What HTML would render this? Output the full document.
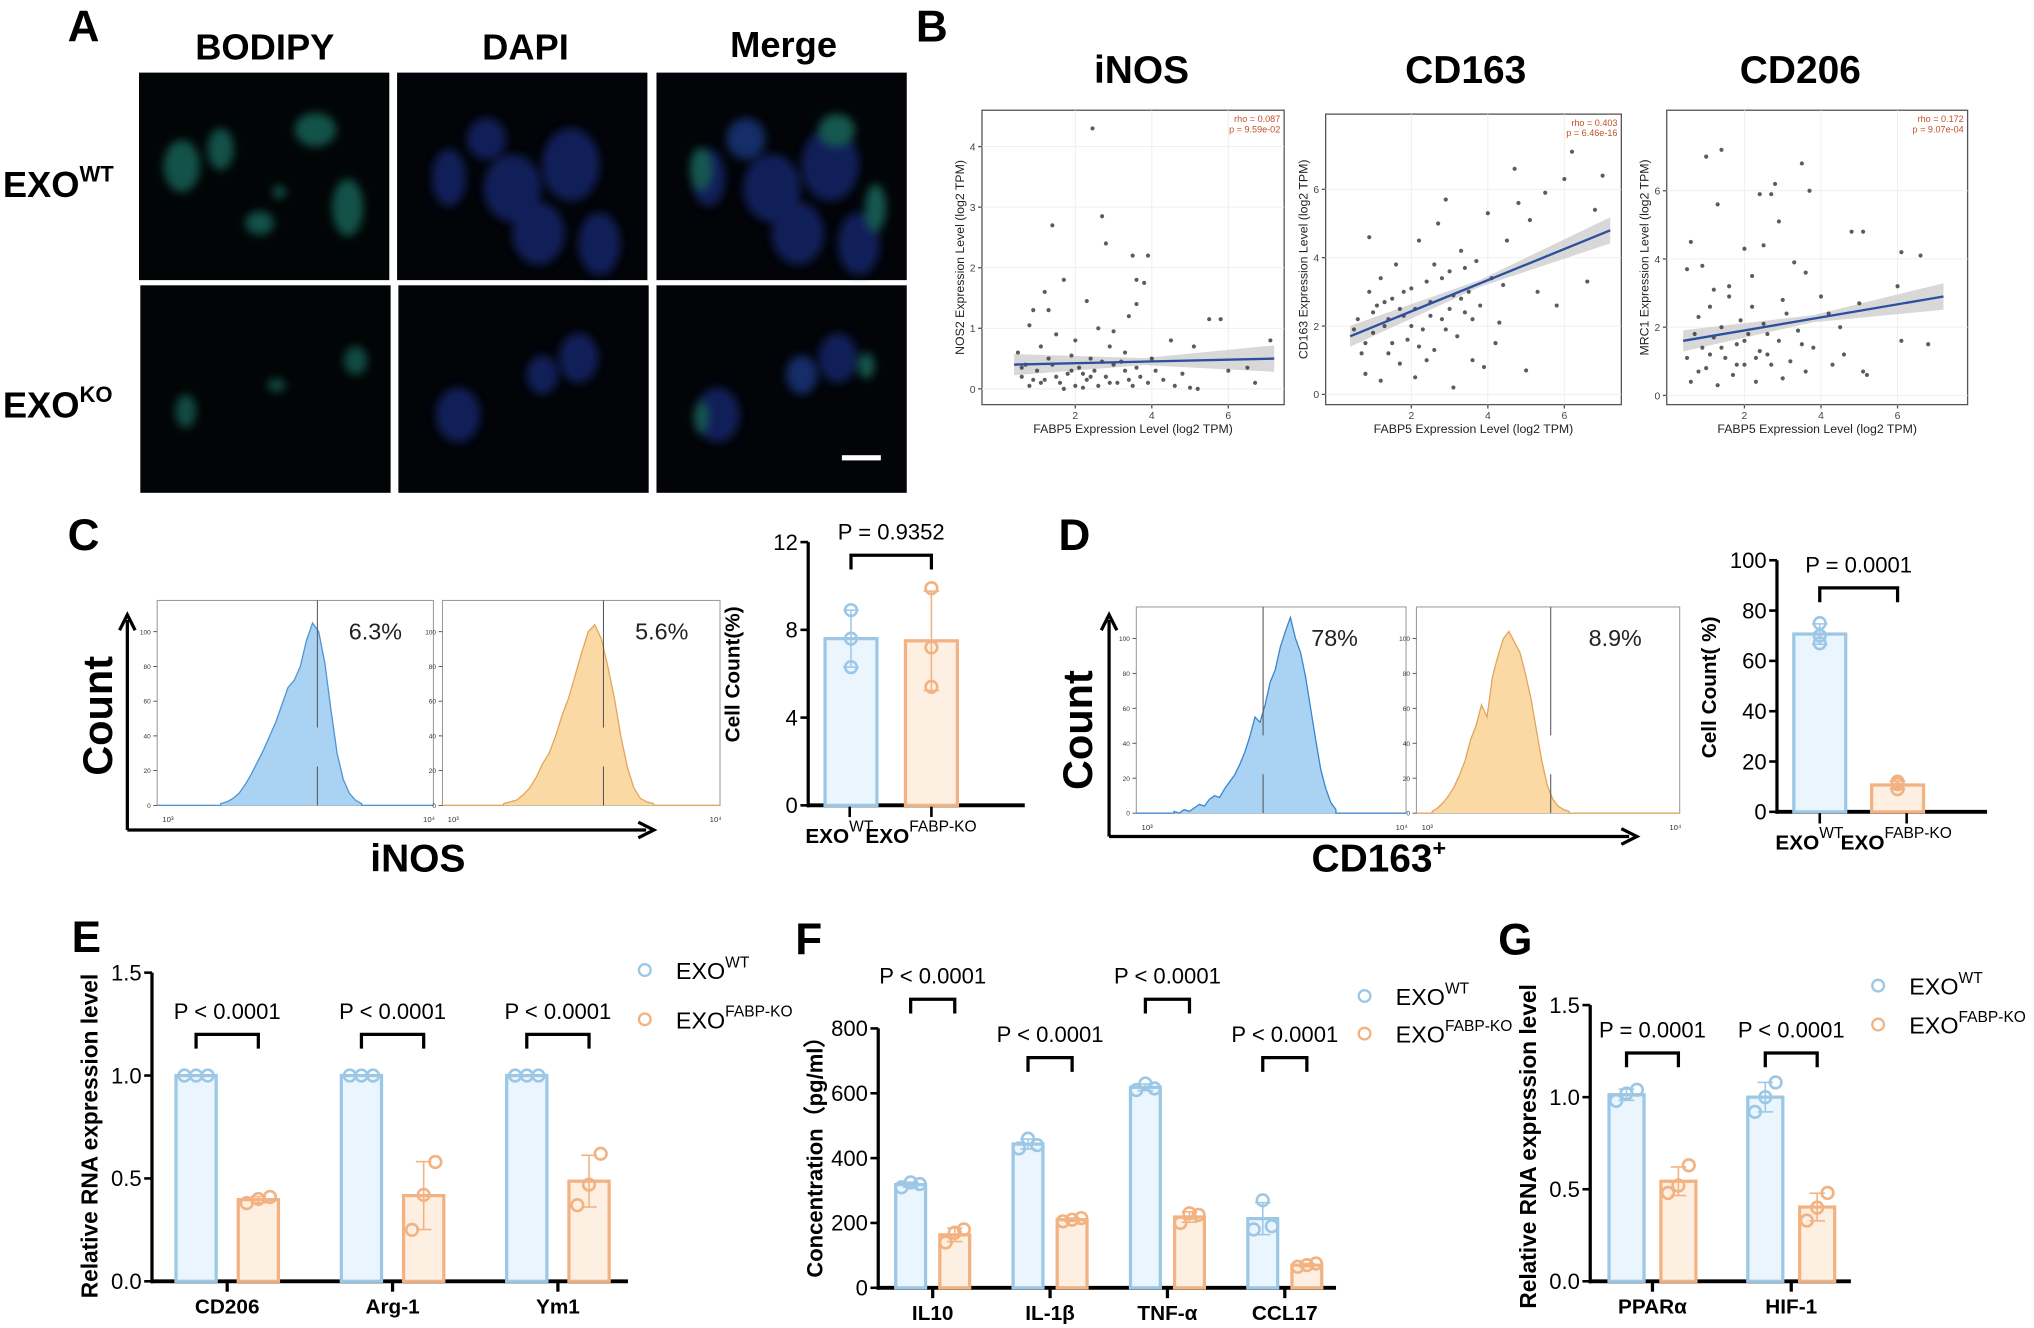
<!DOCTYPE html>
<html><head><meta charset="utf-8">
<style>
html,body{margin:0;padding:0;background:#fff;}
svg{display:block;}
text{font-family:"Liberation Sans",sans-serif;}
.n{font-family:"Liberation Sans Narrow","Liberation Sans",sans-serif;}
.b{font-weight:bold;}
</style></head>
<body>
<svg id="fig" xmlns="http://www.w3.org/2000/svg" width="2034" height="1328" viewBox="0 0 1568 1024">
<defs>
<filter id="blur" x="-20%" y="-20%" width="140%" height="140%"><feGaussianBlur stdDeviation="3.5"/></filter>
</defs>
<!-- Panel A -->
<text x="52" y="32" font-size="34" class="b">A</text>
<text x="204" y="46" font-size="28" class="b n" text-anchor="middle">BODIPY</text>
<text x="405" y="46" font-size="28" class="b n" text-anchor="middle">DAPI</text>
<text x="604" y="44" font-size="28" class="b n" text-anchor="middle">Merge</text>
<text x="2" y="152" font-size="28" class="b n">EXO<tspan font-size="17" dy="-12">WT</tspan></text>
<text x="2" y="322" font-size="28" class="b n">EXO<tspan font-size="17" dy="-12">KO</tspan></text>
<g>
<rect x="107" y="56" width="193" height="160" fill="#020506"/>
<rect x="306" y="56" width="193" height="160" fill="#020408"/>
<rect x="506" y="56" width="193" height="160" fill="#020408"/>
<rect x="108" y="220" width="193" height="160" fill="#020506"/>
<rect x="307" y="220" width="193" height="160" fill="#020408"/>
<rect x="506" y="220" width="193" height="160" fill="#020408"/>
<g filter="url(#blur)" fill="#20917f" opacity="0.55">
<ellipse cx="140" cy="128" rx="14" ry="20"/><ellipse cx="170" cy="115" rx="10" ry="16"/><ellipse cx="243" cy="100" rx="16" ry="13"/>
<ellipse cx="268" cy="160" rx="12" ry="22"/><ellipse cx="200" cy="172" rx="11" ry="9"/><ellipse cx="215" cy="148" rx="5" ry="5"/></g>
<g filter="url(#blur)" fill="#1a3390" opacity="0.6">
<ellipse cx="346" cy="137" rx="13" ry="22"/><ellipse cx="375" cy="107" rx="15" ry="16"/><ellipse cx="395" cy="145" rx="22" ry="26"/>
<ellipse cx="440" cy="127" rx="22" ry="28"/><ellipse cx="415" cy="180" rx="20" ry="24"/><ellipse cx="462" cy="188" rx="16" ry="24"/></g>
<g filter="url(#blur)" opacity="0.6">
<ellipse cx="546" cy="137" rx="13" ry="22" fill="#1a3390"/><ellipse cx="575" cy="107" rx="15" ry="16" fill="#2248a8"/><ellipse cx="595" cy="145" rx="22" ry="26" fill="#1a3390"/>
<ellipse cx="640" cy="127" rx="22" ry="28" fill="#1a3390"/><ellipse cx="615" cy="180" rx="20" ry="24" fill="#1a3390"/><ellipse cx="662" cy="188" rx="16" ry="24" fill="#1a3390"/>
<ellipse cx="540" cy="130" rx="8" ry="16" fill="#20917f"/><ellipse cx="645" cy="100" rx="14" ry="12" fill="#20917f"/><ellipse cx="675" cy="160" rx="8" ry="18" fill="#20917f"/></g>
<g filter="url(#blur)" fill="#20917f" opacity="0.5">
<ellipse cx="143" cy="317" rx="8" ry="13"/><ellipse cx="213" cy="297" rx="7" ry="5"/><ellipse cx="274" cy="278" rx="9" ry="11"/></g>
<g filter="url(#blur)" fill="#1a3390" opacity="0.6">
<ellipse cx="353" cy="320" rx="17" ry="21"/><ellipse cx="418" cy="289" rx="12" ry="15"/><ellipse cx="446" cy="276" rx="15" ry="19"/></g>
<g filter="url(#blur)" opacity="0.6">
<ellipse cx="553" cy="320" rx="17" ry="21" fill="#1a3390"/><ellipse cx="618" cy="289" rx="12" ry="15" fill="#2248a8"/><ellipse cx="646" cy="276" rx="15" ry="19" fill="#1a3390"/>
<ellipse cx="540" cy="322" rx="5" ry="12" fill="#20917f"/><ellipse cx="668" cy="282" rx="6" ry="10" fill="#20917f"/></g>
<rect x="649" y="351" width="30" height="4" fill="#fff"/>
</g>
<!-- Panel B titles -->
<text x="706" y="32" font-size="34" class="b">B</text>
<text x="880" y="64" font-size="30" class="b n" text-anchor="middle">iNOS</text>
<text x="1130" y="64" font-size="30" class="b n" text-anchor="middle">CD163</text>
<text x="1388" y="64" font-size="30" class="b n" text-anchor="middle">CD206</text>
<!-- Panel letters -->
<text x="52" y="424" font-size="34" class="b">C</text>
<text x="816" y="424" font-size="34" class="b">D</text>
<text x="55" y="734" font-size="34" class="b">E</text>
<text x="613" y="736" font-size="34" class="b">F</text>
<text x="1155" y="736" font-size="34" class="b">G</text>
<!-- flow axes -->
<g stroke="#000" stroke-width="2.5" fill="none">
<line x1="98" y1="640" x2="98" y2="478"/><path d="M92 486 L98 474 L104 486" /><line x1="98" y1="640" x2="498" y2="640"/><path d="M492 634 L504 640 L492 646"/></g>
<text transform="translate(86,552) rotate(-90)" font-size="32" class="b" text-anchor="middle">Count</text>
<text x="322" y="672" font-size="30" class="b n" text-anchor="middle">iNOS</text>
<g stroke="#000" stroke-width="2.5" fill="none">
<line x1="855" y1="645" x2="855" y2="478"/><path d="M849 486 L855 474 L861 486"/><line x1="855" y1="645" x2="1256" y2="645"/><path d="M1250 639 L1262 645 L1250 651"/></g>
<text transform="translate(842,563) rotate(-90)" font-size="32" class="b" text-anchor="middle">Count</text>
<text x="1063" y="672" font-size="30" class="b n" text-anchor="middle">CD163<tspan font-size="18" dy="-12">+</tspan></text>
</svg>
<script>
const NS='http://www.w3.org/2000/svg';
const svg=document.getElementById('fig');
function mk(tag,attrs,parent,name){const e=document.createElementNS(NS,tag);for(const k in attrs)e.setAttribute(k,attrs[k]);


(parent||svg).appendChild(e);return e;}
function tx(x,y,s,size,extra,parent,name){const e=mk('text',Object.assign({x:x,y:y,'font-size':size},extra||{}),parent,name);e.textContent=s;return e;}

/* ---------- Scatter data (panel B) ---------- */
const inosPoints=[[2.45,4.3],[2.7,2.85],[1.4,2.7],[2.8,2.4],[3.5,2.2],[3.9,2.2],[1.7,1.8],[3.6,1.8],[3.8,1.75],[1.2,1.6],[0.9,1.3],[1.3,1.3],[2.3,1.45],[3.6,1.4],[3.4,1.2],[5.5,1.15],[5.8,1.15],[7.1,0.8],[0.8,1.05],[2.6,1.0],[3.0,0.95],[4.5,0.8],[5.1,0.7],[0.5,0.6],[1.1,0.7],[1.5,0.9],[2.0,0.8],[2.9,0.7],[3.3,0.6],[6.0,0.3],[6.5,0.35],[6.7,0.1],[5.0,0.02],[5.2,0.0],[0.6,0.2],[0.8,0.05],[1.0,0.3],[1.2,0.15],[1.4,0.4],[1.6,0.1],[1.8,0.25],[2.0,0.05],[2.1,0.35],[2.3,0.15],[2.5,0.3],[2.6,0.05],[2.8,0.2],[3.0,0.4],[3.1,0.1],[3.3,0.3],[3.5,0.05],[3.7,0.2],[3.9,0.1],[4.1,0.3],[4.3,0.15],[4.6,0.05],[4.8,0.25],[1.9,0.55],[2.4,0.5],[3.2,0.45],[1.3,0.5],[0.7,0.4],[2.2,0.02],[2.7,0.45],[1.7,0.0],[3.6,0.35],[4.0,0.5],[0.9,0.15],[1.5,0.2],[2.9,0.1],[1.1,0.1],[2.4,0.2],[3.4,0.15],[1.9,0.3],[0.6,0.35],[2.2,0.25]];
const cd163Points=[[0.6,2.2],[0.7,1.2],[0.8,0.6],[0.9,3.0],[0.9,4.6],[1.0,1.8],[1.1,2.6],[1.2,0.4],[1.2,3.4],[1.3,2.0],[1.4,1.2],[1.5,2.8],[1.6,3.8],[1.7,0.9],[1.8,2.3],[1.9,1.6],[2.0,3.1],[2.1,0.5],[2.1,2.5],[2.2,4.5],[2.3,1.9],[2.4,3.3],[2.5,2.7],[2.6,1.3],[2.7,5.0],[2.8,2.2],[2.9,5.7],[3.0,3.6],[3.1,0.2],[3.1,2.9],[3.2,1.7],[3.3,4.2],[3.4,2.4],[3.5,3.0],[3.6,1.0],[3.7,3.9],[3.8,2.6],[3.9,0.8],[4.0,5.3],[4.1,3.4],[4.2,1.5],[4.3,2.1],[4.5,4.5],[4.7,6.6],[4.8,5.6],[5.0,0.7],[5.1,5.1],[5.3,3.0],[5.5,5.9],[5.8,2.6],[6.0,6.3],[6.2,7.1],[6.6,3.3],[6.8,5.4],[7.0,6.4],[1.5,1.5],[2.0,2.0],[2.5,2.3],[3.0,2.5],[1.0,2.4],[1.8,3.0],[2.8,3.4],[3.6,2.2],[0.5,1.9],[1.4,2.2],[2.2,1.4],[3.4,3.7],[4.4,3.2],[0.8,1.5],[1.3,2.7],[2.4,1.0],[2.9,1.9],[3.3,2.8],[1.7,2.5],[2.6,3.8]];
const cd206Points=[[0.5,3.7],[0.6,4.5],[1.0,7.0],[1.4,7.2],[2.6,1.8],[2.8,6.2],[2.7,5.9],[2.4,5.9],[3.7,6.0],[3.5,6.8],[1.3,5.6],[2.9,5.1],[4.8,4.8],[5.1,4.8],[6.6,4.1],[6.1,4.2],[0.9,3.8],[1.2,3.1],[1.6,3.2],[2.0,4.3],[2.2,3.5],[2.5,4.4],[3.3,3.9],[3.0,2.8],[3.6,3.6],[4.2,2.4],[4.5,2.0],[5.0,2.7],[6.0,3.2],[6.8,1.5],[6.1,1.6],[5.2,0.6],[5.1,0.7],[0.5,1.1],[0.6,0.4],[0.8,2.3],[0.9,1.4],[1.0,0.8],[1.1,2.6],[1.2,1.7],[1.3,0.3],[1.4,2.0],[1.5,1.1],[1.6,2.9],[1.7,0.6],[1.8,1.5],[1.9,2.2],[2.0,0.9],[2.1,1.8],[2.2,2.6],[2.3,0.4],[2.4,1.3],[2.5,2.1],[2.7,0.9],[2.9,1.6],[3.1,2.4],[3.2,1.0],[3.4,1.9],[3.6,0.7],[3.8,1.4],[4.0,2.9],[4.3,0.9],[4.6,1.2],[1.4,1.4],[2.0,1.6],[2.6,1.2],[3.0,0.5],[0.7,1.8],[1.1,1.2],[1.8,0.9],[2.3,1.1],[3.5,1.5],[0.8,0.7]];
const inosFit=[0.4,0.4,7.2,0.5];
const cd163Fit=[0.4,1.7,7.2,4.8];
const cd206Fit=[0.4,1.6,7.2,2.9];
const inosStats=['rho = 0.087','p = 9.59e-02'];
const cd163Stats=['rho = 0.403','p = 6.46e-16'];
const cd206Stats=['rho = 0.172','p = 9.07e-04'];
const scatterXTicks=[2,4,6];
const inosYTicks=[0,1,2,3,4];
const cd163YTicks=[0,2,4,6];
const cd206YTicks=[0,2,4,6];

function scatter(name,box,xd,yd,pts,fit,stats,yticks,ylab){
  const g=mk('g',{},svg,name);
  const sx=v=>box[0]+(v-xd[0])/(xd[1]-xd[0])*(box[2]-box[0]);
  const sy=v=>box[3]-(v-yd[0])/(yd[1]-yd[0])*(box[3]-box[1]);
  mk('rect',{x:box[0],y:box[1],width:box[2]-box[0],height:box[3]-box[1],fill:'#fff',stroke:'#555','stroke-width':1},g,'plot-frame');
  scatterXTicks.forEach(t=>{mk('line',{x1:sx(t),x2:sx(t),y1:box[1],y2:box[3],stroke:'#eee','stroke-width':0.7},g,'grid-line-x');
    mk('line',{x1:sx(t),x2:sx(t),y1:box[3],y2:box[3]+3,stroke:'#555'},g,'x-tick');
    tx(sx(t),box[3]+11,String(t),8,{'text-anchor':'middle',fill:'#444'},g,'x-tick-label');});
  yticks.forEach(t=>{mk('line',{x1:box[0],x2:box[2],y1:sy(t),y2:sy(t),stroke:'#eee','stroke-width':0.7},g,'grid-line-y');
    mk('line',{x1:box[0]-3,x2:box[0],y1:sy(t),y2:sy(t),stroke:'#555'},g,'y-tick');
    tx(box[0]-5,sy(t)+3,String(t),8,{'text-anchor':'end',fill:'#444'},g,'y-tick-label');});
  const x0=fit[0],y0=fit[1],x1=fit[2],y1=fit[3];
  const mid=(x0+x1)/2, bw=(yd[1]-yd[0])*0.012, be=(yd[1]-yd[0])*0.045;
  const band=`M${sx(x0)},${sy(y0+be*0.8)} L${sx(mid)},${sy((y0+y1)/2+bw)} L${sx(x1)},${sy(y1+be)} L${sx(x1)},${sy(y1-be)} L${sx(mid)},${sy((y0+y1)/2-bw)} L${sx(x0)},${sy(y0-be*0.8)} Z`;
  mk('path',{d:band,fill:'#c8c8c8',opacity:0.7},g,'confidence-band');
  pts.forEach(p=>{mk('circle',{cx:sx(p[0]),cy:sy(p[1]),r:1.6,fill:'#333',opacity:0.8},g,'scatter-point');});
  mk('line',{x1:sx(x0),y1:sy(y0),x2:sx(x1),y2:sy(y1),stroke:'#2c4fa0','stroke-width':1.8},g,'regression-line');
  tx(box[2]-3,box[1]+9,stats[0],7,{'text-anchor':'end',fill:'#c0502a'},g,'rho-label');
  tx(box[2]-3,box[1]+17,stats[1],7,{'text-anchor':'end',fill:'#c0502a'},g,'p-value-label');
  tx((box[0]+box[2])/2,box[3]+22,'FABP5 Expression Level (log2 TPM)',9.5,{'text-anchor':'middle',fill:'#222'},g,'x-axis-title');
  tx(0,0,ylab,9.5,{'text-anchor':'middle',fill:'#222',transform:`translate(${box[0]-14},${(box[1]+box[3])/2}) rotate(-90)`},g,'y-axis-title');
}
scatter('inos-scatter',[757,85,990,312],[-0.44,7.46],[-0.26,4.6],inosPoints,inosFit,inosStats,inosYTicks,'NOS2 Expression Level (log2 TPM)');
scatter('cd163-scatter',[1022,88,1250,312],[-0.24,7.49],[-0.3,8.2],cd163Points,cd163Fit,cd163Stats,cd163YTicks,'CD163 Expression Level (log2 TPM)');
scatter('cd206-scatter',[1285,85,1517,312],[-0.03,7.83],[-0.27,8.36],cd206Points,cd206Fit,cd206Stats,cd206YTicks,'MRC1 Expression Level (log2 TPM)');

/* ---------- Histograms ---------- */
const histCBlueRange=[3.23,3.74];
const histCBlue=[1,2,4,7,12,18,25,32,40,48,58,68,72,80,95,105,100,82,55,30,15,7,3,1];
const histCOrangeRange=[3.22,3.76];
const histCOrange=[1,2,3,6,10,16,24,30,40,52,62,75,88,100,104,96,80,62,40,22,10,4,2,1];
const histDBlueRange=[3.14,3.74];
const histDBlue=[1,0,2,1,3,5,4,8,10,9,14,18,22,28,35,44,55,52,62,75,82,95,104,112,100,92,78,60,42,25,14,6,2];
const histDOrangeRange=[3.06,3.58];
const histDOrange=[1,3,6,10,15,22,30,42,50,62,55,78,90,100,104,98,92,80,66,48,30,16,8,4,2,1];
const histYTicks=[0,20,40,60,80,100];
function hist(name,box,range,counts,gate,pct,fill,stroke){
  const g=mk('g',{},svg,name);
  const sx=v=>box[0]+(v-3)*(box[2]-box[0]);
  const sy=v=>box[3]-v/118*(box[3]-box[1]);
  mk('rect',{x:box[0],y:box[1],width:box[2]-box[0],height:box[3]-box[1],fill:'#fff',stroke:'#999','stroke-width':0.8},g,'histogram-frame');
  histYTicks.forEach(t=>{mk('line',{x1:box[0]-3,x2:box[0],y1:sy(t),y2:sy(t),stroke:'#333','stroke-width':0.6},g,'y-tick');
    tx(box[0]-5,sy(t)+2,String(t),5,{'text-anchor':'end',fill:'#333'},g,'y-tick-label');});
  tx(box[0]+4,box[3]+13,'10³',6,{fill:'#333'},g,'x-tick-label');
  tx(box[2]-8,box[3]+13,'10⁴',6,{fill:'#333'},g,'x-tick-label');
  const n=counts.length;let d=`M${box[0]},${box[3]} L${sx(range[0])},${box[3]}`;
  counts.forEach((c,i)=>{d+=` L${sx(range[0]+(range[1]-range[0])*i/(n-1))},${sy(c)}`;});
  d+=` L${sx(range[1])},${box[3]} L${box[2]},${box[3]}`;
  mk('path',{d:d,fill:fill,stroke:stroke,'stroke-width':1},g,'histogram-area');
  mk('line',{x1:sx(gate),x2:sx(gate),y1:box[1],y2:box[3]-60,stroke:'#555','stroke-width':0.8},g,'gate-line');
  mk('line',{x1:sx(gate),x2:sx(gate),y1:box[3]-30,y2:box[3],stroke:'#555','stroke-width':0.8},g,'gate-tick');
  tx(sx(gate)+(box[2]-sx(gate))/2,box[1]+30,pct,18,{'text-anchor':'middle',fill:'#222'},g,'gate-percentage');
}
hist('hist-c-wt',[121,463,334,621],histCBlueRange,histCBlue,3.58,'6.3%','#a9d2f3','#4f94d4');
hist('hist-c-ko',[341,463,555,621],histCOrangeRange,histCOrange,3.58,'5.6%','#fbd9a4','#e3a55a');
hist('hist-d-wt',[876,468,1084,627],histDBlueRange,histDBlue,3.47,'78%','#a9d2f3','#3a86cc');
hist('hist-d-ko',[1092,468,1295,627],histDOrangeRange,histDOrange,3.51,'8.9%','#fbd9a4','#e3a55a');

/* ---------- Bar charts ---------- */
const cWT=[8.9,7.6,6.3];
const cKO=[9.9,7.2,5.4];
const cTicks=[0,4,8,12];
const dWT=[67,70,75];
const dKO=[9,11,12];
const dTicks=[0,20,40,60,80,100];
const eCats=['CD206','Arg-1','Ym1'];
const eWT=[[1,1,1],[1,1,1],[1,1,1]];
const eKO=[[0.38,0.40,0.41],[0.25,0.42,0.58],[0.37,0.47,0.62]];
const eP=['P < 0.0001','P < 0.0001','P < 0.0001'];
const eBracket=[1.2,1.2,1.2];
const eTicks=[0,0.5,1.0,1.5];
const fCats=['IL10','IL-1β','TNF-α','CCL17'];
const fWT=[[310,325,320],[430,460,440],[610,630,615],[180,270,190]];
const fKO=[[140,170,180],[205,210,215],[200,230,225],[65,70,75]];
const fP=['P < 0.0001','P < 0.0001','P < 0.0001','P < 0.0001'];
const fBracket=[890,710,890,710];
const fTicks=[0,200,400,600,800];
const gCats=['PPARα','HIF-1'];
const gWT=[[0.98,1.02,1.04],[0.92,1.0,1.08]];
const gKO=[[0.48,0.52,0.63],[0.33,0.4,0.48]];
const gP=['P = 0.0001','P < 0.0001'];
const gBracket=[1.24,1.24];
const gTicks=[0,0.5,1.0,1.5];

const BLUE='#9cc8e6',BLUEF='#eaf5fd',OR='#f2b282',ORF='#fdefe2';
function mean(a){return a.reduce((s,v)=>s+v,0)/a.length;}
function sd(a){const m=mean(a);return Math.sqrt(a.reduce((s,v)=>s+(v-m)*(v-m),0)/(a.length-1));}
function barChart(name,o){
  const g=mk('g',{},svg,name);
  const sy=v=>o.y0-v/o.ymax*(o.y0-o.yTop);
  mk('line',{x1:o.ax,x2:o.ax,y1:o.yTop,y2:o.y0+1.5,stroke:'#000','stroke-width':2.5},g,'y-axis');
  mk('line',{x1:o.ax-1,x2:o.xEnd,y1:o.y0,y2:o.y0,stroke:'#000','stroke-width':3},g,'x-axis');
  o.ticks.forEach(t=>{mk('line',{x1:o.ax-6,x2:o.ax,y1:sy(t),y2:sy(t),stroke:'#000','stroke-width':2},g,'y-tick');
    tx(o.ax-8,sy(t)+6,o.fmt(t),17,{'text-anchor':'end',class:'n'},g,'y-tick-label');});
  tx(0,0,o.ylab,o.ylsize||16,{'text-anchor':'middle',class:'b',transform:`translate(${o.ylx},${o.yly}) rotate(-90)`},g,'y-axis-title');
  o.wt.forEach((wv,i)=>{
    const xw=o.x1+i*o.step, xk=xw+o.off;
    [[wv,xw,BLUE,BLUEF,'wt'],[o.ko[i],xk,OR,ORF,'ko']].forEach(([vals,cx,st,fi,k])=>{
      const m=mean(vals),s=sd(vals);
      mk('rect',{x:cx-o.w/2,y:sy(m),width:o.w,height:o.y0-sy(m),fill:fi,stroke:st,'stroke-width':2.5},g,'bar-'+k);
      if(s>0){mk('line',{x1:cx,x2:cx,y1:sy(m+s),y2:sy(m-s),stroke:st,'stroke-width':1.2},g,'error-bar');
        mk('line',{x1:cx-6,x2:cx+6,y1:sy(m+s),y2:sy(m+s),stroke:st,'stroke-width':1.2},g,'error-cap');
        mk('line',{x1:cx-6,x2:cx+6,y1:sy(m-s),y2:sy(m-s),stroke:st,'stroke-width':1.2},g,'error-cap');}
      vals.forEach((v,j)=>{mk('circle',{cx:cx+(j-1)*o.jit,cy:sy(v),r:4.5,fill:'none',stroke:st,'stroke-width':2},g,'data-point-'+k);});
    });
    if(o.cats){const lx=(xw+xk)/2;mk('line',{x1:lx,x2:lx,y1:o.y0,y2:o.y0+8,stroke:'#000','stroke-width':2.5},g,'x-tick');
      tx(lx,o.y0+25,o.cats[i],16,{'text-anchor':'middle',class:'b n'},g,'category-label');}
    if(o.p){const by=sy(o.br[i]);
      mk('path',{d:`M${xw},${by+11} L${xw},${by} L${xk},${by} L${xk},${by+11}`,fill:'none',stroke:'#000','stroke-width':2.5},g,'significance-bracket');
      tx((xw+xk)/2,by-12,o.p[i],17,{'text-anchor':'middle',class:'n'},g,'p-value-label');}
  });
}
function legend(name,x,y1,y2){
  const g=mk('g',{},svg,name);
  mk('circle',{cx:x,cy:y1,r:4.5,fill:'none',stroke:BLUE,'stroke-width':1.8},g,'legend-marker-wt');
  const t1=tx(x+24,y1+7,'EXO',18,{class:'n'},g,'legend-label-wt');
  const s1=document.createElementNS(NS,'tspan');s1.setAttribute('font-size','12');s1.setAttribute('dy','-9');s1.textContent='WT';t1.appendChild(s1);
  mk('circle',{cx:x,cy:y2,r:4.5,fill:'none',stroke:OR,'stroke-width':1.8},g,'legend-marker-ko');
  const t2=tx(x+24,y2+7,'EXO',18,{class:'n'},g,'legend-label-ko');
  const s2=document.createElementNS(NS,'tspan');s2.setAttribute('font-size','12');s2.setAttribute('dy','-9');s2.textContent='FABP-KO';t2.appendChild(s2);
}
const f1=v=>v.toFixed(1), f0=v=>String(v);
barChart('bar-chart-c',{ax:623,y0:621,yTop:418,ymax:12,xEnd:790,ticks:cTicks,fmt:f0,wt:[cWT],ko:[cKO],x1:656,step:0,off:62,w:40,jit:0,
  ylab:'Cell Count(%)',ylx:570,yly:520,p:['P = 0.9352'],br:[11.4]});
barChart('bar-chart-d',{ax:1370,y0:626,yTop:432,ymax:100,xEnd:1532,ticks:dTicks,fmt:f0,wt:[dWT],ko:[dKO],x1:1403,step:0,off:60,w:40,jit:0,
  ylab:'Cell Count( %)',ylx:1323,yly:530,p:['P = 0.0001'],br:[89]});
[['bar-c-x-labels',655,718,640],['bar-d-x-labels',1403,1470,645]].forEach(([nm,a,b,y])=>{
  const g=mk('g',{},svg,nm);
  [[a,'WT'],[b,'FABP-KO']].forEach(([x,sup])=>{
    mk('line',{x1:x,x2:x,y1:y-18,y2:y-10,stroke:'#000','stroke-width':2},g,'x-tick');
    const t=tx(x-8,y+10,'EXO',16,{'text-anchor':'middle',class:'b n'},g,'category-label');
    const s=document.createElementNS(NS,'tspan');s.setAttribute('font-size','12');s.setAttribute('dy','-9');s.setAttribute('font-weight','normal');s.textContent=sup;t.appendChild(s);
  });
});
barChart('bar-chart-e',{ax:117,y0:988,yTop:750,ymax:1.5,xEnd:484,ticks:eTicks,fmt:f1,wt:eWT,ko:eKO,x1:151,step:127.5,off:48,w:31,jit:9,
  ylab:'Relative RNA expression level',ylsize:17.5,ylx:75,yly:876,cats:eCats,p:eP,br:eBracket});
legend('legend-e',497,748,786);
barChart('bar-chart-f',{ax:677,y0:993,yTop:793,ymax:800,xEnd:1030,ticks:fTicks,fmt:f0,wt:fWT,ko:fKO,x1:702,step:90.5,off:34,w:23,jit:7,
  ylab:'Concentration（pg/ml）',ylsize:17,ylx:634,yly:888,cats:fCats,p:fP,br:fBracket});
legend('legend-f',1052,768,797);
barChart('bar-chart-g',{ax:1226,y0:988,yTop:775,ymax:1.5,xEnd:1427,ticks:gTicks,fmt:f1,wt:gWT,ko:gKO,x1:1254,step:107,off:40,w:27,jit:8,
  ylab:'Relative RNA expression level',ylsize:17.5,ylx:1184,yly:884,cats:gCats,p:gP,br:gBracket});
legend('legend-g',1448,760,790);
</script>
</body></html>
